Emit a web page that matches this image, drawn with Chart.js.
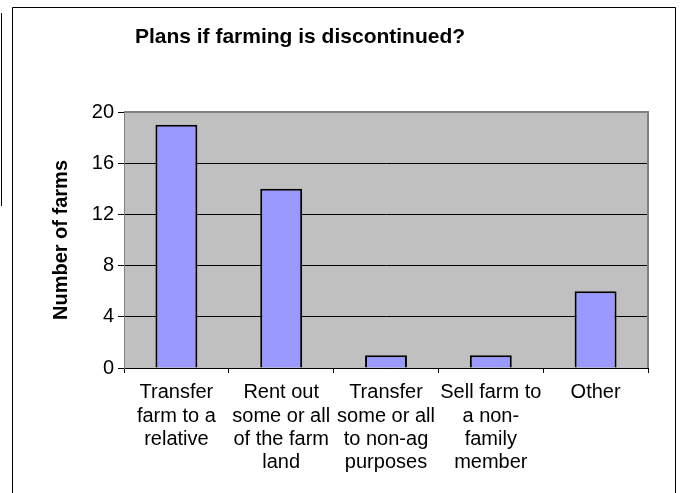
<!DOCTYPE html>
<html>
<head>
<meta charset="utf-8">
<script src="https://cdn.jsdelivr.net/npm/chart.js@4"></script>
<style>
html,body{margin:0;padding:0;background:#fff;}
#c{display:block;}
</style>
</head>
<body>
<canvas id="c" width="689" height="493"></canvas>
<script>
const categories = [
  ["Transfer","farm to a","relative"],
  ["Rent out","some or all","of the farm","land"],
  ["Transfer","some or all","to non-ag","purposes"],
  ["Sell farm to","a non-","family","member"],
  ["Other"]
];
const farmCounts = [19, 14, 1, 1, 6];
const yTicks = [0, 4, 8, 12, 16, 20];
const chartTitle = "Plans if farming is discontinued?";
const yAxisTitle = "Number of farms";

const FONT = "'Liberation Sans', Arial, sans-serif";

const decor = {
  id: 'decor',
  beforeDraw(chart) {
    const ctx = chart.ctx;
    ctx.save();
    ctx.fillStyle = '#fff';
    ctx.fillRect(0, 0, chart.width, chart.height);
    ctx.strokeStyle = '#000';
    ctx.lineWidth = 1;
    ctx.beginPath();
    ctx.moveTo(1.5, 13); ctx.lineTo(1.5, 206);
    ctx.stroke();
    ctx.beginPath();
    ctx.moveTo(12.5, 500); ctx.lineTo(12.5, 7.5); ctx.lineTo(675.5, 7.5); ctx.lineTo(675.5, 500);
    ctx.stroke();
    const a = chart.chartArea;
    ctx.fillStyle = '#C0C0C0';
    ctx.fillRect(a.left, a.top, a.right - a.left, a.bottom - a.top);
    ctx.fillStyle = '#000';
    ctx.font = "bold 21px " + FONT;
    ctx.textAlign = 'center';
    ctx.textBaseline = 'middle';
    ctx.fillText(chartTitle, 300, 37);
    ctx.restore();
  },
  afterDatasetsDraw(chart) {
    const ctx = chart.ctx;
    const a = chart.chartArea;
    ctx.save();
    ctx.strokeStyle = '#808080';
    ctx.lineWidth = 2;
    ctx.beginPath();
    ctx.moveTo(a.left, a.top); ctx.lineTo(a.right, a.top); ctx.lineTo(a.right, a.bottom);
    ctx.stroke();
    ctx.restore();
  }
};

new Chart(document.getElementById('c'), {
  type: 'bar',
  data: {
    labels: categories,
    datasets: [{
      data: farmCounts,
      backgroundColor: '#9999FF',
      borderColor: '#000',
      borderWidth: 2,
      barPercentage: 0.4,
      categoryPercentage: 1.0
    }]
  },
  options: {
    responsive: false,
    animation: false,
    layout: { padding: { left: 0, top: 112, right: 41, bottom: 0 } },
    plugins: {
      legend: { display: false },
      title: { display: false },
      tooltip: { enabled: false }
    },
    scales: {
      x: {
        offset: true,
        grid: {
          display: true,
          offset: true,
          drawOnChartArea: false,
          drawTicks: true,
          tickLength: 5,
          color: '#000'
        },
        border: { display: true, color: '#000', width: 1 },
        ticks: {
          color: '#000',
          font: { family: FONT, size: 20, lineHeight: 1.17 },
          padding: 8,
          maxRotation: 0,
          autoSkip: false
        },
        afterFit(s) { s.height = 125; }
      },
      y: {
        min: 0,
        max: 20,
        afterBuildTicks(s) { s.ticks = yTicks.map(v => ({ value: v })); },
        grid: {
          color: '#000',
          drawTicks: true,
          tickLength: 6,
          lineWidth: 1
        },
        border: { display: true, color: '#808080', width: 1 },
        ticks: {
          color: '#000',
          font: { family: FONT, size: 20 },
          padding: 4
        },
        title: {
          display: true,
          text: yAxisTitle,
          color: '#000',
          font: { family: FONT, size: 20, weight: 'bold' },
          padding: { top: 49, bottom: 0 }
        },
        afterFit(s) { s.width = 124; }
      }
    }
  },
  plugins: [decor]
});
</script>
</body>
</html>
